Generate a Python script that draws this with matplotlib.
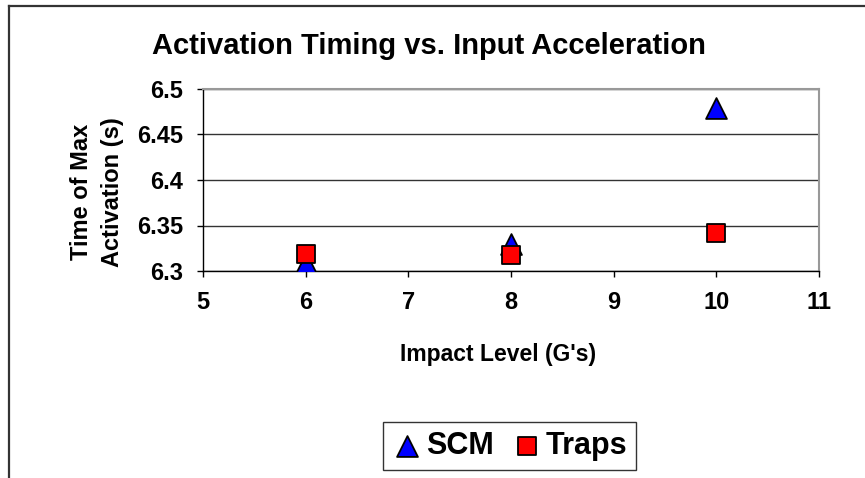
import numpy as np
import matplotlib
matplotlib.use("Agg")
import matplotlib.pyplot as plt
from matplotlib.lines import Line2D

# data
impact = [6, 8, 10]
scm = [6.309, 6.330, 6.479]
traps = [6.319, 6.3174, 6.342]

x_ticks = [5, 6, 7, 8, 9, 10, 11]
y_ticks = [6.3, 6.35, 6.4, 6.45, 6.5]
y_tick_labels = ["6.3", "6.35", "6.4", "6.45", "6.5"]

plt.rcParams['font.family'] = ['Liberation Sans', 'DejaVu Sans']
plt.rcParams['font.weight'] = 'bold'

W, H = 865, 478
fig = plt.figure(figsize=(W / 100, H / 100), dpi=100)
fig.patch.set_facecolor('white')

# plot area in pixels: x 203..819, y 89..271
ax = fig.add_axes([203 / W, 1 - 271 / H, (819 - 203) / W, (271 - 89) / H])

ax.scatter(impact, scm, marker='^', s=15 ** 2, color='#0000ff',
           edgecolors='black', linewidths=1.3, zorder=3, label='SCM')
ax.scatter(impact, traps, marker='s', s=13.5 ** 2, color='#ff0000',
           edgecolors='black', linewidths=1.3, zorder=4, label='Traps')

ax.set_xlim(5, 11)
ax.set_ylim(6.3, 6.5)
ax.set_xticks(x_ticks)
ax.set_yticks(y_ticks)
ax.set_yticklabels(y_tick_labels)
ax.yaxis.grid(True, color='#333333', linewidth=1.0)
ax.set_axisbelow(True)

for side in ['top', 'right']:
    ax.spines[side].set_color('#999999')
    ax.spines[side].set_linewidth(1.5)
for side in ['left', 'bottom']:
    ax.spines[side].set_color('black')
    ax.spines[side].set_linewidth(1.0)

ax.tick_params(axis='both', direction='out', length=4.5, width=1.0,
               labelsize=17, color='black')
for lab in ax.get_xticklabels() + ax.get_yticklabels():
    lab.set_fontweight('bold')
ax.tick_params(axis='x', pad=10)
ax.tick_params(axis='y', pad=10)

# titles and axis labels
fig.text(429 / W, 1 - 46 / H, "Activation Timing vs. Input Acceleration",
         ha='center', va='center', fontsize=21, fontweight='bold')
fig.text(498 / W, 1 - 355 / H, "Impact Level (G's)",
         ha='center', va='center', fontsize=16.5, fontweight='bold')
fig.text(97 / W, 1 - 192 / H, "Time of Max\nActivation (s)",
         ha='center', va='center', rotation=90, fontsize=17,
         fontweight='bold', multialignment='center', linespacing=1.45)

leg = ax.legend(loc='center', bbox_to_anchor=(509.5 / W, 1 - 446 / H),
                bbox_transform=fig.transFigure, ncol=2, frameon=True,
                fancybox=False, fontsize=22, handletextpad=0.1,
                columnspacing=0.6, borderpad=0.3, handlelength=1.0,
                borderaxespad=0)
leg.get_frame().set_edgecolor('black')
leg.get_frame().set_linewidth(1.0)
for t in leg.get_texts():
    t.set_fontweight('bold')

# outer chart border (top and left edges visible)
fig.add_artist(Line2D([8.5 / W, 1.0], [1 - 5.5 / H, 1 - 5.5 / H],
                      transform=fig.transFigure, color='#333333', linewidth=1.6))
fig.add_artist(Line2D([8.5 / W, 8.5 / W], [0, 1 - 5.5 / H],
                      transform=fig.transFigure, color='#333333', linewidth=1.6))

fig.savefig("out.png", dpi=100)
